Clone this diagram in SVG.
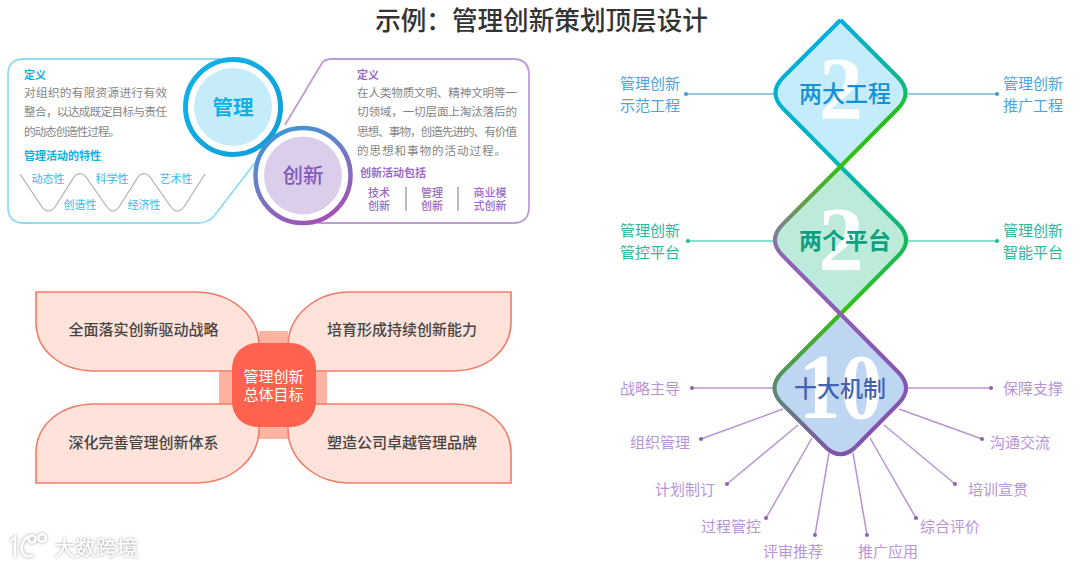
<svg xmlns="http://www.w3.org/2000/svg" width="1080" height="567" viewBox="0 0 1080 567">
<style>
text{font-family:"Noto Sans CJK SC","Noto Sans",sans-serif}
.m{text-anchor:middle}
.body{font-size:11.6px;fill:#858585}
.bh{font-size:11px;font-weight:700;fill:#12ade6}
.ph{font-size:11px;font-weight:700;fill:#9a6cc8}
.wv{font-size:11px;fill:#35bce8;text-anchor:middle}
.pv{font-size:11px;font-weight:500;fill:#9a6cc8;text-anchor:middle}
.goal{font-size:15px;font-weight:500;fill:#454545;text-anchor:middle}
.petal{fill:#ffe2d9;stroke:#f27c68;stroke-width:1.6}
.num{font-family:"Liberation Serif",serif;font-weight:700;fill:#fff;text-anchor:middle}
.sb{font-size:15px;fill:#4aa5e0;text-anchor:middle}
.sg{font-size:15px;fill:#2cb79b;text-anchor:middle}
.sp{font-size:15px;fill:#b794d8;text-anchor:middle}
.lb{stroke:#6fb6e6;stroke-width:1.5;fill:none}
.lg{stroke:#63d6bd;stroke-width:1.5;fill:none}
.lp{stroke:#b795d4;stroke-width:1.5;fill:none}
.db{fill:#3d97d8}.dg{fill:#22b890}.dp{fill:#9060b4}
.wm{fill:none;stroke:#fff;stroke-width:2.4}
</style>
<defs>
<linearGradient id="ring1" x1="0" y1="0" x2="1" y2="1"><stop offset="0" stop-color="#12b3ea"/><stop offset="1" stop-color="#0c9ed8"/></linearGradient>
<linearGradient id="ring2" x1="0.2" y1="0" x2="0.7" y2="1"><stop offset="0" stop-color="#3b98d8"/><stop offset="0.5" stop-color="#7478c4"/><stop offset="1" stop-color="#a750b4"/></linearGradient>
<linearGradient id="sa" gradientUnits="userSpaceOnUse" x1="0" y1="20" x2="0" y2="460">
<stop offset="0" stop-color="#00aee2"/><stop offset="0.33" stop-color="#00b4bc"/><stop offset="0.48" stop-color="#10b868"/><stop offset="0.66" stop-color="#35c010"/><stop offset="0.84" stop-color="#5d8a70"/><stop offset="1" stop-color="#8050b0"/>
</linearGradient>
<linearGradient id="sb" gradientUnits="userSpaceOnUse" x1="0" y1="20" x2="0" y2="460">
<stop offset="0" stop-color="#00aee2"/><stop offset="0.15" stop-color="#10b880"/><stop offset="0.2" stop-color="#22c020"/><stop offset="0.33" stop-color="#35c010"/><stop offset="0.42" stop-color="#669c4c"/><stop offset="0.48" stop-color="#808094"/><stop offset="0.55" stop-color="#9060b8"/><stop offset="1" stop-color="#8050b0"/>
</linearGradient>
<filter id="wmf" x="-20%" y="-40%" width="140%" height="180%"><feDropShadow dx="0" dy="0" stdDeviation="1.4" flood-color="#777" flood-opacity="0.8"/></filter>
</defs>

<rect width="1080" height="567" fill="#fff"/>
<text id="title" x="541.5" y="30" class="m" font-size="25.6" font-weight="500" fill="#333">示例：管理创新策划顶层设计</text>

<g id="panel-manage">
<path d="M220 59H24Q8 59 8 75V207Q8 223 24 223H198Q208 223 214 216L258 159" fill="#fff" stroke="#90dcf3" stroke-width="1.8"/>
<text x="24" y="79" class="bh">定义</text>
<text x="24" y="97" class="body" textLength="143">对组织的有限资源进行有效</text>
<text x="24" y="116" class="body" textLength="143" lengthAdjust="spacing">整合，以达成既定目标与责任</text>
<text x="24" y="136" class="body" textLength="96">的动态创造性过程。</text>
<text x="24" y="160" class="bh">管理活动的特性</text>
<path d="M20 174L42 207Q48 215 55 207L74 177Q80 170 86 177L107 207Q113 215 119 207L138 177Q144 170 150 177L171 207Q177 215 184 207L205 174" fill="none" stroke="#a9a9a9" stroke-width="1.1"/>
<text x="48" y="183" class="wv">动态性</text>
<text x="112" y="183" class="wv">科学性</text>
<text x="176" y="183" class="wv">艺术性</text>
<text x="80" y="209" class="wv">创造性</text>
<text x="144" y="209" class="wv">经济性</text>
</g>

<g id="panel-innovate">
<path d="M285 125L322 63Q325 59 332 59H513Q529 59 529 75V207Q529 223 513 223H318" fill="#fff" stroke="#bb9cd9" stroke-width="1.8"/>
<text x="357" y="79" class="ph">定义</text>
<text x="357" y="97" class="body" textLength="160">在人类物质文明、精神文明等一</text>
<text x="357" y="116" class="body" textLength="160">切领域，一切层面上淘汰落后的</text>
<text x="357" y="136" class="body" textLength="160">思想、事物，创造先进的、有价值</text>
<text x="357" y="155" class="body" textLength="149">的思想和事物的活动过程。</text>
<text x="360" y="177" class="ph" font-weight="500">创新活动包括</text>
<text x="379" y="197" class="pv">技术</text><text x="379" y="210" class="pv">创新</text>
<text x="432" y="197" class="pv">管理</text><text x="432" y="210" class="pv">创新</text>
<text x="490" y="197" class="pv">商业模</text><text x="490" y="210" class="pv">式创新</text>
<path d="M406 187V211M458 187V211" stroke="#8f8f8f" stroke-width="1.2"/>
</g>

<g id="circle-manage">
<circle cx="233" cy="107" r="47.5" fill="#fff" stroke="url(#ring1)" stroke-width="5"/>
<circle cx="233" cy="107" r="39" fill="#c6ecfa"/>
<text x="233" y="114.500" class="m" font-size="20.500" font-weight="700" fill="#12aee8">管理</text>
</g>
<g id="circle-innovate">
<circle cx="303" cy="175.500" r="47.500" fill="#fff" stroke="url(#ring2)" stroke-width="4.500"/>
<circle cx="303" cy="175.500" r="39" fill="#dccdea"/>
<text x="303" y="183" class="m" font-size="20.500" font-weight="500" fill="#7f5ab8">创新</text>
</g>

<g id="goals">
<path d="M259 331H288V371H327V404H288V439H259V404H219V371H259Z" fill="#ffb3a0"/>
<g id="goal-1"><path class="petal" d="M36 292H195C232 292 259 316 259 346V371H95C60 371 36 350 36 322Z"/><text x="143.500" y="335" class="goal">全面落实创新驱动战略</text></g>
<g id="goal-2"><path class="petal" d="M511 292H350C315 292 288 316 288 346V371H452C487 371 511 350 511 322Z"/><text x="402" y="335" class="goal">培育形成持续创新能力</text></g>
<g id="goal-3"><path class="petal" d="M36 483H195C232 483 259 459 259 429V404H95C60 404 36 425 36 453Z"/><text x="143.500" y="448" class="goal">深化完善管理创新体系</text></g>
<g id="goal-4"><path class="petal" d="M511 483H350C315 483 288 459 288 429V404H452C487 404 511 425 511 453Z"/><text x="402" y="448" class="goal">塑造公司卓越管理品牌</text></g>
<g id="goal-center"><rect x="232" y="343" width="84" height="84" rx="25" fill="#ff624e"/>
<text x="273.500" y="382" class="m" font-size="15" fill="#fff">管理创新</text>
<text x="273.500" y="400" class="m" font-size="15" fill="#fff">总体目标</text></g>
</g>

<g id="node-two-projects">
<path d="M840.500 20L783.500 77Q767.500 93 783.500 109L840.500 166.500L897.500 109Q913.500 93 897.500 77Z" fill="#c4ecfb"/>
<text x="841" y="118" class="num" font-size="88" font-weight="400">2</text>
<text x="845" y="102" class="m" font-size="23" font-weight="500" fill="#1590d2">两大工程</text>
</g>
<g id="node-two-platforms">
<path d="M840.500 166.500L783 224Q767 240 783 256L840.500 314L898 256Q914 240 898 224Z" fill="#bcecd9"/>
<text x="841" y="270" class="num" font-size="91" font-weight="400">2</text>
<text x="845" y="249" class="m" font-size="23" font-weight="700" fill="#0ea081">两个平台</text>
</g>
<g id="node-ten-mechanisms">
<path d="M840.500 314L782.500 372Q766.500 388 782.500 404L825 446.500Q840.500 462 856 446.500L898 404Q914 388 898 372Z" fill="#bfd6f3"/>
<text transform="translate(840.500 418) scale(.9 1)" class="num" font-size="93" font-weight="400">10</text>
<text x="840" y="397" class="m" font-size="23" font-weight="500" fill="#4262b2">十大机制</text>
</g>

<g id="connectors">
<path class="lb" d="M686 94H774M908 94H997"/>
<circle class="db" cx="686" cy="94" r="2"/><circle class="db" cx="997" cy="94" r="2"/>
<path class="lg" d="M688 241H774M908 241H997"/>
<circle class="dg" cx="688" cy="241" r="2"/><circle class="dg" cx="997" cy="241" r="2"/>
<path class="lp" d="M692 388H774M908 388H991M701 439L783 409M982 439L899 409M727 484L798 425M955 484L884 425M766 518L812 438M916 518L870 438M815 535L829 453M867 535L853 453"/>
<g class="dp"><circle cx="692" cy="388" r="2"/><circle cx="991" cy="388" r="2"/><circle cx="701" cy="439" r="2"/><circle cx="982" cy="439" r="2"/><circle cx="727" cy="484" r="2"/><circle cx="955" cy="484" r="2"/><circle cx="766" cy="518" r="2"/><circle cx="916" cy="518" r="2"/><circle cx="815" cy="535" r="2"/><circle cx="867" cy="535" r="2"/></g>
<path d="M840.500 20L783.500 77Q767.500 93 783.500 109L840.500 166.500L898 224Q914 240 898 256L840.500 314L782.500 372Q766.500 388 782.500 404L825 446.500Q840.500 462 856 446.500" fill="none" stroke="url(#sa)" stroke-width="4" stroke-linejoin="round"/>
<path d="M840.500 20L897.500 77Q913.500 93 897.500 109L840.500 166.500L783 224Q767 240 783 256L840.500 314L898 372Q914 388 898 404L856 446.500" fill="none" stroke="url(#sb)" stroke-width="4" stroke-linejoin="round"/>
</g>

<g id="labels">
<text x="650" y="89" class="sb">管理创新</text><text x="650" y="111" class="sb">示范工程</text>
<text x="1033" y="89" class="sb">管理创新</text><text x="1033" y="111" class="sb">推广工程</text>
<text x="650" y="236" class="sg">管理创新</text><text x="650" y="258" class="sg">管控平台</text>
<text x="1033" y="236" class="sg">管理创新</text><text x="1033" y="258" class="sg">智能平台</text>
<text x="650" y="394" class="sp">战略主导</text><text x="1033" y="394" class="sp">保障支撑</text>
<text x="660" y="448" class="sp">组织管理</text><text x="1020" y="448" class="sp">沟通交流</text>
<text x="685" y="495" class="sp">计划制订</text><text x="998" y="495" class="sp">培训宣贯</text>
<text x="731" y="532" class="sp">过程管控</text><text x="950" y="532" class="sp">综合评价</text>
<text x="793" y="557" class="sp">评审推荐</text><text x="888" y="557" class="sp">推广应用</text>
</g>

<g id="watermark" filter="url(#wmf)">
<path class="wm" d="M11 541L15 537V557M31 536C22 538 20 548 23 553C25 557 30 557 33 555"/>
<circle class="wm" cx="32" cy="539" r="3.600"/><circle class="wm" cx="42" cy="538" r="3.800"/>
<text x="54" y="555" font-size="21" fill="#fff">大数跨境</text>
</g>
</svg>
